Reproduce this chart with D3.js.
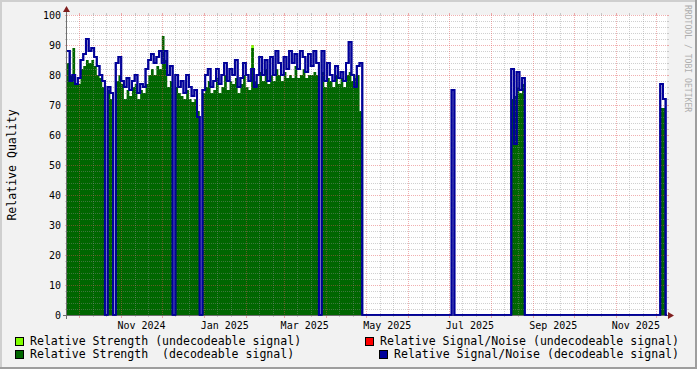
<!DOCTYPE html>
<html><head><meta charset="utf-8">
<script src="https://cdn.jsdelivr.net/npm/d3@7"></script>
<style>html,body{margin:0;padding:0;background:#F2F2F2;} svg{display:block;}</style>
</head><body><svg id="c" width="697" height="369"></svg>
<script>
// ---- data ----
const startDate = "2024-09-22";
const endDate = "2025-12-09";
const stepDays = 2;

const seg1Start = 0;
const strength1 = [84,80,89,77,77,82,83,85,84,85,83,80,79,76,0,75,72,0,78,80,77,72,75,73,76,77,72,75,74,77,80,82,80,83,82,93,85,76,78,0,76,74,73,72,75,72,71,72,68,0,74,76,78,74,75,79,74,76,80,75,78,77,79,74,77,80,76,75,89,78,77,81,78,82,77,80,78,82,80,78,81,79,80,79,83,79,80,82,79,80,80,81,80,0,81,76,79,78,76,80,77,79,76,80,81,78,79,80,68];
const snr1 = [88,78,80,77,79,85,87,92,88,89,86,83,80,78,0,76,74,0,84,86,78,76,79,75,78,80,74,77,76,82,85,87,84,86,88,84,88,80,83,0,80,76,78,74,80,76,73,75,66,0,75,80,82,76,78,82,77,80,84,78,82,80,85,76,79,84,80,78,82,76,80,86,80,85,78,86,80,88,84,80,86,82,88,84,87,82,88,86,81,87,83,88,84,0,88,78,84,80,78,83,79,81,78,84,91,80,76,83,84];

const seg2Start = 142;
const strength2 = [0];
const snr2 = [75];

const seg3Start = 164;
const strength3 = [72,73,76,74,77];
const snr3 = [82,57,81,75,79];

const seg4Start = 219;
const strength4 = [69,69];
const snr4 = [77,72];

// undecodeable strength (sparse: step index / value)
const undecIdx = [68,106];
const undecVal = [90,80];
// undecodeable signal/noise: none visible
const undecSnrIdx = [];
const undecSnrVal = [];

const yTicks = [0,10,20,30,40,50,60,70,80,90,100];
const xLabels = ["Nov 2024","Jan 2025","Mar 2025","May 2025","Jul 2025","Sep 2025","Nov 2025"];
const xLabelMonths = ["2024-11-01","2025-01-01","2025-03-01","2025-05-01","2025-07-01","2025-09-01","2025-11-01"];

const legendItems = [
  {text:"Relative Strength (undecodeable signal)", color:"#80FF00", col:0, row:0},
  {text:"Relative Signal/Noise (undecodeable signal)", color:"#FF0000", col:1, row:0},
  {text:"Relative Strength  (decodeable signal)", color:"#006600", col:0, row:1},
  {text:"Relative Signal/Noise (decodeable signal)", color:"#000099", col:2, row:1}
];

// ---- build series ----
const t0 = new Date(startDate + "T00:00:00Z");
const t1 = new Date(endDate + "T00:00:00Z");
const nSteps = Math.round((t1 - t0) / 864e5 / stepDays);
const strength = new Array(nSteps).fill(0);
const snr = new Array(nSteps).fill(0);
const undec = new Array(nSteps).fill(0);
function place(arr, start, vals){ vals.forEach((v,i)=>{ arr[start+i] = v; }); }
place(strength, seg1Start, strength1); place(snr, seg1Start, snr1);
place(strength, seg2Start, strength2); place(snr, seg2Start, snr2);
place(strength, seg3Start, strength3); place(snr, seg3Start, snr3);
place(strength, seg4Start, strength4); place(snr, seg4Start, snr4);
undecIdx.forEach((k,i)=>{ undec[k] = undecVal[i]; });

const dateAt = i => d3.utcDay.offset(t0, i*stepDays);
function pts(arr){
  const p = arr.map((v,i)=>({d:dateAt(i), v}));
  p.push({d:t1, v:arr[arr.length-1]});
  return p;
}

// ---- layout ----
const X0 = 67, X1 = 667, Y0 = 315, Y1 = 15;
const svg = d3.select("#c");
const x = d3.scaleUtc().domain([t0, t1]).range([X0, X1]);
const y = d3.scaleLinear().domain([0, 100]).range([Y0, Y1]);
const FONT = "'DejaVu Sans Mono', monospace";

// background + shade frame
svg.append("rect").attr("width",697).attr("height",369).attr("fill","#F2F2F2");
svg.append("rect").attr("x",0).attr("y",0).attr("width",697).attr("height",2).attr("fill","#CFCFCF");
svg.append("rect").attr("x",0).attr("y",0).attr("width",2).attr("height",369).attr("fill","#CFCFCF");
svg.append("rect").attr("x",0).attr("y",367).attr("width",697).attr("height",2).attr("fill","#9E9E9E");
svg.append("rect").attr("x",695).attr("y",0).attr("width",2).attr("height",369).attr("fill","#9E9E9E");

// canvas
svg.append("rect").attr("x",X0).attr("y",Y1).attr("width",X1-X0).attr("height",Y0-Y1).attr("fill","#FFFFFF");

svg.append("clipPath").attr("id","clip").append("rect")
  .attr("x",X0).attr("y",Y1-2).attr("width",X1-X0).attr("height",Y0-Y1+4);
const g = svg.append("g").attr("clip-path","url(#clip)");

const area = d3.area().x(d=>x(d.d)).y0(y(0)).y1(d=>y(d.v)).curve(d3.curveStepAfter);
const line = d3.line().x(d=>x(d.d)).y(d=>y(d.v)).curve(d3.curveStepAfter);

g.append("path").attr("d", area(pts(undec))).attr("fill","#80FF00");
g.append("path").attr("d", area(pts(strength))).attr("fill","#006600");
g.append("path").attr("d", line(pts(snr))).attr("fill","none").attr("stroke","#000099").attr("stroke-width",2);

// ---- grid ----
const minorCol = "rgba(143,143,143,0.42)", majorCol = "rgba(222,79,79,0.45)";
const grid = svg.append("g");
for (let v = 0; v <= 100; v += 2) {
  const yy = Math.round(y(v)) + 0.5;
  const major = v % 10 === 0;
  grid.append("line").attr("x1",X0).attr("x2",X1).attr("y1",yy).attr("y2",yy)
    .attr("stroke", major?majorCol:minorCol).attr("stroke-dasharray","1,1");
  grid.append("line").attr("x1",X0-2).attr("x2",X0).attr("y1",yy).attr("y2",yy).attr("stroke", major?majorCol:minorCol);
  grid.append("line").attr("x1",X1).attr("x2",X1+2).attr("y1",yy).attr("y2",yy).attr("stroke", major?majorCol:minorCol);
}
// vertical: month starts (major), days 11 & 21 (minor)
const months = d3.utcMonth.range(t0, t1);
const minorDays = [];
d3.utcMonth.range(d3.utcMonth.floor(t0), t1).forEach(m=>{
  [10,20].forEach(o=>{ const d = d3.utcDay.offset(m,o); if (d>t0 && d<t1) minorDays.push(d); });
});
minorDays.forEach(d=>{
  const xx = Math.round(x(d)) + 0.5;
  grid.append("line").attr("x1",xx).attr("x2",xx).attr("y1",Y1).attr("y2",Y0).attr("stroke",minorCol).attr("stroke-dasharray","1,1");
  grid.append("line").attr("x1",xx).attr("x2",xx).attr("y1",Y0).attr("y2",Y0+2).attr("stroke",minorCol);
  grid.append("line").attr("x1",xx).attr("x2",xx).attr("y1",Y1-2).attr("y2",Y1).attr("stroke",minorCol);
});
months.forEach(d=>{
  const xx = Math.round(x(d)) + 0.5;
  grid.append("line").attr("x1",xx).attr("x2",xx).attr("y1",Y1).attr("y2",Y0).attr("stroke",majorCol).attr("stroke-dasharray","1,1");
  grid.append("line").attr("x1",xx).attr("x2",xx).attr("y1",Y0).attr("y2",Y0+3).attr("stroke",majorCol);
  grid.append("line").attr("x1",xx).attr("x2",xx).attr("y1",Y1-2).attr("y2",Y1).attr("stroke",majorCol);
});

// ---- axes ----
const axisCol = "#6E6E6E";
svg.append("line").attr("x1",X0-4).attr("x2",X1+4).attr("y1",Y0+0.5).attr("y2",Y0+0.5).attr("stroke",axisCol);
svg.append("line").attr("x1",X0-0.5).attr("x2",X0-0.5).attr("y1",Y0+4).attr("y2",Y1-4).attr("stroke",axisCol);
// blue line over axis in zero regions
g.append("path").attr("d", line(pts(snr))).attr("fill","none").attr("stroke","#000099").attr("stroke-width",2)
  .attr("opacity",0); // placeholder keeps order simple
// redraw blue line on top of grid/axis
svg.append("g").attr("clip-path","url(#clip)").append("path").attr("d", line(pts(snr)))
  .attr("fill","none").attr("stroke","#000099").attr("stroke-width",2).attr("stroke-opacity",0.85);
// arrows
const arrowCol = "#801F1F";
svg.append("path").attr("d",`M${X1+1},${Y0-3} L${X1+7},${Y0+0.5} L${X1+1},${Y0+4} Z`).attr("fill",arrowCol);
svg.append("path").attr("d",`M${X0-4},${Y1-3} L${X0-0.5},${Y1-9} L${X0+3},${Y1-3} Z`).attr("fill",arrowCol);

// y labels
svg.append("g").selectAll("text").data(yTicks).join("text")
  .attr("x",61).attr("y",v=>y(v)+3.6).attr("text-anchor","end")
  .attr("font-family",FONT).attr("font-size","10px").attr("fill","#000").text(v=>v);
// x labels (centered mid-month)
svg.append("g").selectAll("text").data(xLabels).join("text")
  .attr("x",(s,i)=>{ const m = new Date(xLabelMonths[i]+"T00:00:00Z"); return (x(m)+x(d3.utcMonth.offset(m,1)))/2; })
  .attr("y",328.5).attr("text-anchor","middle")
  .attr("font-family",FONT).attr("font-size","10px").attr("fill","#000").text(s=>s);

// vertical label
svg.append("text").attr("transform","translate(15.5,165) rotate(-90)").attr("text-anchor","middle")
  .attr("font-family",FONT).attr("font-size","11.55px").attr("fill","#000").text("Relative Quality");
// watermark
svg.append("text").attr("transform","translate(685,5) rotate(90)").attr("text-anchor","start")
  .attr("font-family",FONT).attr("font-size","8.1px").attr("fill","#AEAEAE").text("RRDTOOL / TOBI OETIKER");

// legend
const legX = [15, 365, 379], legTX = [30, 380, 394], legY = [337, 350];
const lg = svg.append("g");
legendItems.forEach(it=>{
  lg.append("rect").attr("x",legX[it.col]+0.5).attr("y",legY[it.row]+0.5).attr("width",8).attr("height",8)
    .attr("fill",it.color).attr("stroke","#000").attr("stroke-width",1);
  lg.append("text").attr("x",legTX[it.col]).attr("y",legY[it.row]+8.3)
    .attr("font-family",FONT).attr("font-size","11.55px").attr("fill","#000")
    .attr("xml:space","preserve").style("white-space","pre").text(it.text);
});
</script></body></html>
